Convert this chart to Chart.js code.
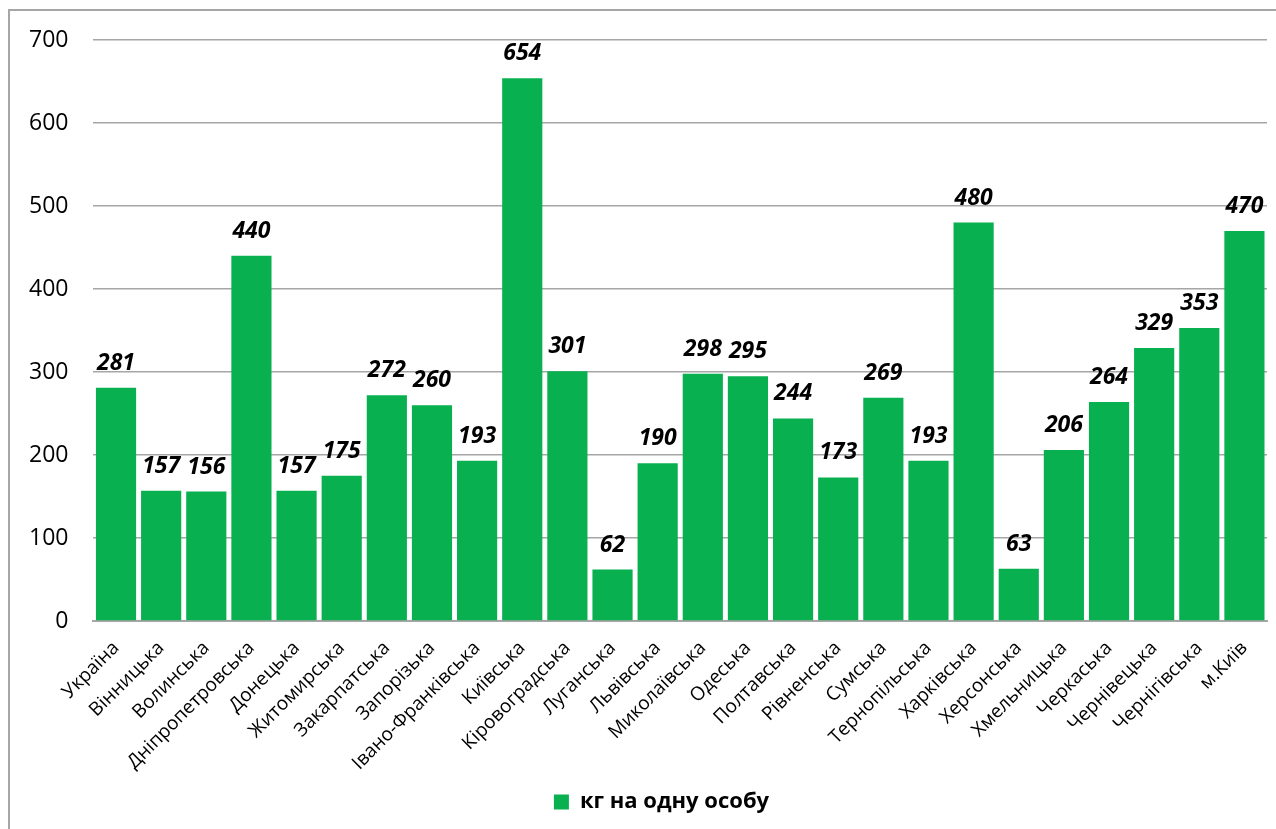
<!DOCTYPE html>
<html>
<head>
<meta charset="utf-8">
<script src="https://cdn.jsdelivr.net/npm/chart.js@4/dist/chart.umd.min.js"></script>
<style>
  body { margin: 0; background: #fff; overflow: hidden; }
  #frame { position: absolute; left: 8px; top: 9px; width: 1290px; height: 840px; border: 2px solid #a6a6a6; }
  #wrap { position: absolute; left: 0; top: 0; width: 1276px; height: 829px; }
</style>
</head>
<body>
<div id="frame"></div>
<div id="wrap"><canvas id="chartCanvas"></canvas></div>
<script>
// регіони та значення, кг на одну особу
const regions = [
    'Україна', 'Вінницька', 'Волинська', 'Дніпропетровська', 'Донецька', 'Житомирська',
    'Закарпатська', 'Запорізька', 'Івано-Франківська', 'Київська', 'Кіровоградська',
    'Луганська', 'Львівська', 'Миколаївська', 'Одеська', 'Полтавська', 'Рівненська',
    'Сумська', 'Тернопільська', 'Харківська', 'Херсонська', 'Хмельницька', 'Черкаська',
    'Чернівецька', 'Чернігівська', 'м.Київ'
];
const kgPerPerson = [281, 157, 156, 440, 157, 175, 272, 260, 193, 654, 301, 62, 190,
    298, 295, 244, 173, 269, 193, 480, 63, 206, 264, 329, 353, 470];
const yTicks = [0, 100, 200, 300, 400, 500, 600, 700];

const FONT = '"Open Sans", "DejaVu Sans", sans-serif';

const valueLabels = {
    id: 'valueLabels',
    afterDatasetsDraw(chart) {
        const ctx = chart.ctx;
        const meta = chart.getDatasetMeta(0);
        ctx.save();
        ctx.font = 'italic bold 23px ' + FONT;
        ctx.fillStyle = '#000';
        ctx.textAlign = 'center';
        ctx.textBaseline = 'alphabetic';
        meta.data.forEach((bar, i) => {
            ctx.fillText(String(kgPerPerson[i]), bar.x, bar.y - 18);
        });
        ctx.restore();
    }
};

// легенда в оригіналі трохи зміщена праворуч
const legendShift = {
    id: 'legendShift',
    afterLayout(chart) {
        chart.legend.left += 26;
        chart.legend.right += 26;
    }
};

function initializeChart() {
    const ctx = document.getElementById('chartCanvas').getContext('2d');
    new Chart(ctx, {
        type: 'bar',
        data: {
            labels: regions,
            datasets: [
                {
                    label: 'кг на одну особу',
                    data: kgPerPerson,
                    backgroundColor: '#08b050',
                    borderWidth: 0,
                    categoryPercentage: 0.89,
                    barPercentage: 1.0,
                },
            ],
        },
        options: {
            responsive: true,
            maintainAspectRatio: false,
            animation: false,
            layout: { padding: { top: 40, left: 4, right: 9, bottom: 6 } },
            plugins: {
                tooltip: { enabled: false },
                legend: {
                    position: 'bottom',
                    labels: {
                        boxWidth: 15,
                        boxHeight: 15,
                        color: '#000',
                        font: { family: FONT, size: 22, weight: 'bold' },
                        padding: 16,
                    },
                },
            },
            scales: {
                x: {
                    afterFit(scale) {
                        scale.height = 154;
                    },
                    grid: { display: false },
                    border: { display: true, color: '#a6a6a6', width: 2 },
                    ticks: {
                        color: '#000',
                        font: { family: FONT, size: 19 },
                        minRotation: 45,
                        maxRotation: 45,
                        autoSkip: false,
                        padding: 8,
                    },
                },
                y: {
                    min: 0,
                    max: 700,
                    afterBuildTicks(axis) {
                        axis.ticks = yTicks.map(v => ({ value: v }));
                    },
                    grid: { color: '#a6a6a6', lineWidth: 1.5, drawTicks: false },
                    border: { display: false },
                    ticks: {
                        color: '#000',
                        font: { family: FONT, size: 23 },
                        padding: 25,
                    },
                },
            },
        },
        plugins: [valueLabels, legendShift],
    });
}

initializeChart();
</script>
</body>
</html>
